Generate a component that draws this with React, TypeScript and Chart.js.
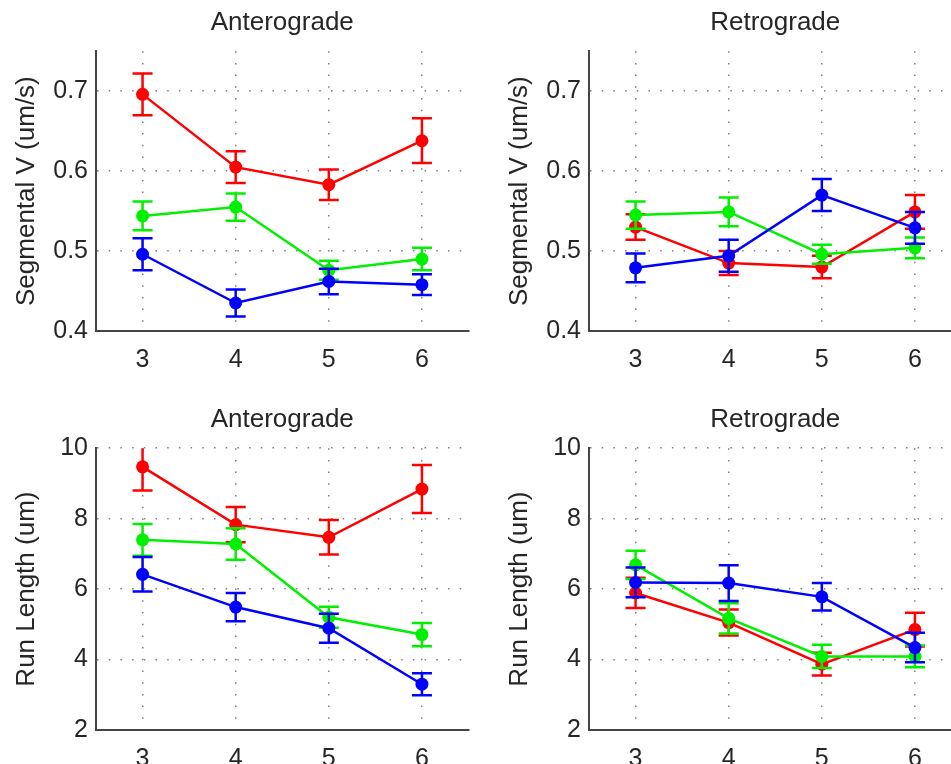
import React, { useEffect, useRef } from "react";
import { Chart, registerables } from "chart.js";

Chart.register(...registerables);

// ---- data ----
const xCategories = [3, 4, 5, 6];
const velTicks = [0.4, 0.5, 0.6, 0.7];
const runTicks = [2, 4, 6, 8, 10];

// Segmental velocity, anterograde
const antVelRed = [0.696, 0.605, 0.583, 0.638];
const antVelRedErr = [0.026, 0.02, 0.019, 0.028];
const antVelGreen = [0.544, 0.555, 0.476, 0.49];
const antVelGreenErr = [0.018, 0.017, 0.012, 0.014];
const antVelBlue = [0.496, 0.435, 0.462, 0.458];
const antVelBlueErr = [0.02, 0.017, 0.016, 0.013];

// Segmental velocity, retrograde
const retVelRed = [0.53, 0.485, 0.48, 0.549];
const retVelRedErr = [0.016, 0.015, 0.014, 0.021];
const retVelGreen = [0.545, 0.549, 0.496, 0.504];
const retVelGreenErr = [0.017, 0.018, 0.012, 0.013];
const retVelBlue = [0.479, 0.494, 0.57, 0.529];
const retVelBlueErr = [0.018, 0.02, 0.02, 0.02];

// Run length, anterograde
const antRunRed = [9.47, 7.83, 7.47, 8.84];
const antRunRedErr = [0.67, 0.5, 0.49, 0.68];
const antRunGreen = [7.4, 7.28, 5.2, 4.71];
const antRunGreenErr = [0.45, 0.45, 0.3, 0.33];
const antRunBlue = [6.42, 5.49, 4.89, 3.3];
const antRunBlueErr = [0.49, 0.4, 0.41, 0.31];

// Run length, retrograde
const retRunRed = [5.89, 5.05, 3.87, 4.85];
const retRunRedErr = [0.43, 0.37, 0.32, 0.48];
const retRunGreen = [6.69, 5.17, 4.09, 4.09];
const retRunGreenErr = [0.4, 0.43, 0.33, 0.31];
const retRunBlue = [6.19, 6.17, 5.78, 4.34];
const retRunBlueErr = [0.42, 0.51, 0.39, 0.42];

const RED = "#ff0000";
const GREEN = "#00f000";
const BLUE = "#0000ff";
const FONT = '"Liberation Sans", Arial, Helvetica, sans-serif';
const TEXT = "#262626";

type Panel = {
  left: number;
  top: number;
  height: number;
  title: string;
  yLabel: string;
  yMin: number;
  yMax: number;
  yTicks: number[];
  red: number[];
  redErr: number[];
  green: number[];
  greenErr: number[];
  blue: number[];
  blueErr: number[];
};

const panels: Panel[] = [
  {
    left: 0, top: 0, height: 380, title: "Anterograde", yLabel: "Segmental V (um/s)",
    yMin: 0.4, yMax: 0.75, yTicks: velTicks,
    red: antVelRed, redErr: antVelRedErr, green: antVelGreen, greenErr: antVelGreenErr,
    blue: antVelBlue, blueErr: antVelBlueErr,
  },
  {
    left: 493, top: 0, height: 380, title: "Retrograde", yLabel: "Segmental V (um/s)",
    yMin: 0.4, yMax: 0.75, yTicks: velTicks,
    red: retVelRed, redErr: retVelRedErr, green: retVelGreen, greenErr: retVelGreenErr,
    blue: retVelBlue, blueErr: retVelBlueErr,
  },
  {
    left: 0, top: 397, height: 382, title: "Anterograde", yLabel: "Run Length (um)",
    yMin: 2, yMax: 10, yTicks: runTicks,
    red: antRunRed, redErr: antRunRedErr, green: antRunGreen, greenErr: antRunGreenErr,
    blue: antRunBlue, blueErr: antRunBlueErr,
  },
  {
    left: 493, top: 397, height: 382, title: "Retrograde", yLabel: "Run Length (um)",
    yMin: 2, yMax: 10, yTicks: runTicks,
    red: retRunRed, redErr: retRunRedErr, green: retRunGreen, greenErr: retRunGreenErr,
    blue: retRunBlue, blueErr: retRunBlueErr,
  },
];

const errorBarPlugin = {
  id: "errorBars",
  beforeDatasetDraw(chart: any, args: any) {
    const ds: any = chart.data.datasets[args.index];
    if (!ds.errors) return;
    const xs = chart.scales.x;
    const ys = chart.scales.y;
    const ctx = chart.ctx;
    const a = chart.chartArea;
    ctx.save();
    ctx.beginPath();
    ctx.rect(a.left, a.top, a.right - a.left, a.bottom - a.top);
    ctx.clip();
    ctx.strokeStyle = ds.borderColor;
    ctx.lineWidth = 2.5;
    ds.data.forEach((p: any, i: number) => {
      const e = ds.errors[i];
      const x = xs.getPixelForValue(p.x);
      const y1 = ys.getPixelForValue(p.y + e);
      const y2 = ys.getPixelForValue(p.y - e);
      ctx.beginPath();
      ctx.moveTo(x, y1);
      ctx.lineTo(x, y2);
      ctx.moveTo(x - 10, y1);
      ctx.lineTo(x + 10, y1);
      ctx.moveTo(x - 10, y2);
      ctx.lineTo(x + 10, y2);
      ctx.stroke();
    });
    ctx.restore();
  },
};

function makeDataset(values: number[], errs: number[], color: string) {
  return {
    data: xCategories.map((x, i) => ({ x, y: values[i] })),
    errors: errs,
    borderColor: color,
    backgroundColor: color,
    borderWidth: 2.5,
    pointRadius: 6.5,
    pointBorderWidth: 0,
    pointBackgroundColor: color,
    pointHoverRadius: 6.5,
    tension: 0,
    fill: false,
  };
}

function makeConfig(p: Panel): any {
  return {
    type: "line",
    data: {
      datasets: [
        makeDataset(p.blue, p.blueErr, BLUE),
        makeDataset(p.green, p.greenErr, GREEN),
        makeDataset(p.red, p.redErr, RED),
      ],
    },
    plugins: [errorBarPlugin],
    options: {
      responsive: false,
      animation: false,
      devicePixelRatio: 1,
      layout: { padding: { left: 0, right: 5, top: 0, bottom: 0 } },
      plugins: {
        legend: { display: false },
        tooltip: { enabled: false },
        title: {
          display: true,
          text: p.title,
          fullSize: false,
          color: TEXT,
          font: { family: FONT, size: 26, weight: "normal" },
          padding: { top: 7, bottom: 13 },
        },
      },
      scales: {
        x: {
          type: "linear",
          min: 2.5,
          max: 6.5,
          afterBuildTicks: (axis: any) => {
            axis.ticks = xCategories.map((v) => ({ value: v }));
          },
          afterFit: (axis: any) => {
            axis.height = 49;
          },
          ticks: {
            color: TEXT,
            font: { family: FONT, size: 25 },
            padding: 14,
            maxRotation: 0,
            callback: (v: any) => String(v),
          },
          grid: { color: "#808080", lineWidth: 1.5, drawTicks: false },
          border: { display: true, color: "#454545", width: 2, dash: [1.5, 10.2] },
        },
        y: {
          type: "linear",
          min: p.yMin,
          max: p.yMax,
          afterBuildTicks: (axis: any) => {
            axis.ticks = p.yTicks.map((v) => ({ value: v }));
          },
          afterFit: (axis: any) => {
            axis.width = 96;
          },
          ticks: {
            color: TEXT,
            font: { family: FONT, size: 25 },
            padding: 8,
            callback: (v: any) => String(v),
          },
          title: {
            display: true,
            text: p.yLabel,
            color: TEXT,
            font: { family: FONT, size: 26 },
            padding: { top: 11, bottom: 0 },
          },
          grid: { color: "#808080", lineWidth: 1.5, drawTicks: false },
          border: { display: true, color: "#454545", width: 2, dash: [1.5, 10.2] },
        },
      },
    },
  };
}

function PanelChart({ p }: { p: Panel }) {
  const ref = useRef<HTMLCanvasElement | null>(null);
  useEffect(() => {
    if (!ref.current) return;
    const chart = new Chart(ref.current, makeConfig(p));
    return () => chart.destroy();
  }, [p]);
  return (
    <canvas
      ref={ref}
      width={475}
      height={p.height}
      style={{
        position: "absolute",
        left: p.left,
        top: p.top,
        width: 475,
        height: p.height,
      }}
    />
  );
}

export default function App() {
  return (
    <div
      style={{
        position: "absolute",
        left: 0,
        top: 0,
        width: 951,
        height: 764,
        overflow: "hidden",
        background: "#ffffff",
      }}
    >
      {panels.map((p, i) => (
        <PanelChart key={i} p={p} />
      ))}
    </div>
  );
}
